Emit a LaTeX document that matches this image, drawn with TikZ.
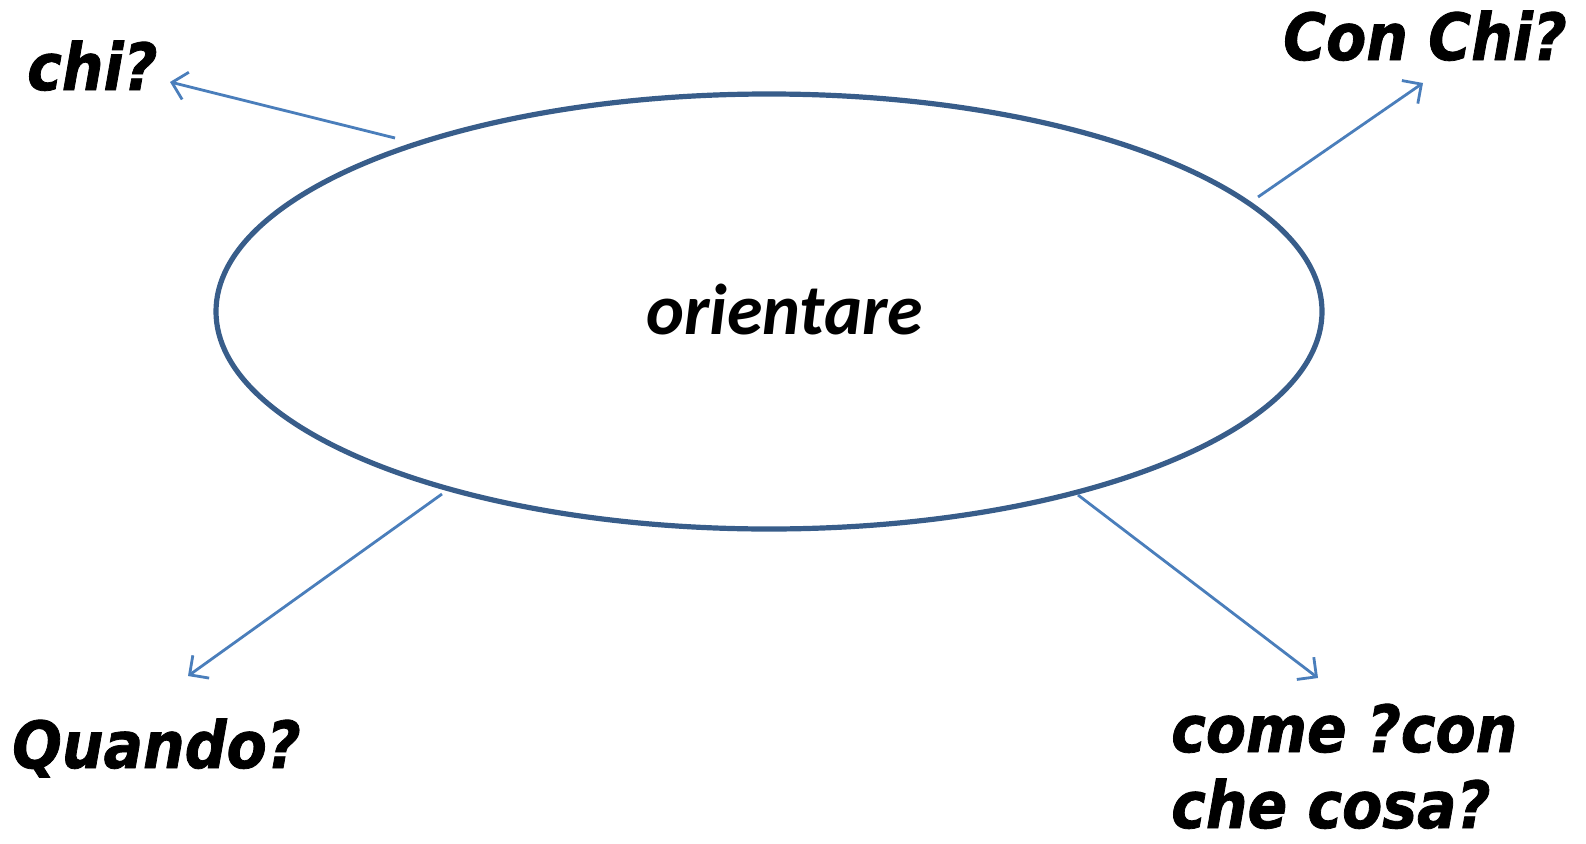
\documentclass[tikz,border=0pt]{standalone}
\usepackage{fontspec}
\usetikzlibrary{arrows.meta,shapes.geometric}
\newfontfamily\qfont[FakeBold=1.2]{DejaVu Sans Condensed Bold Oblique}
\newfontfamily\cfont{Carlito}
\definecolor{arrowblue}{HTML}{4A7EBB}
\definecolor{ringblue}{HTML}{385D8A}
\begin{document}
\begin{tikzpicture}[x=1pt,y=-1pt,
  qtext/.style={inner sep=0pt, anchor=base west, font=\qfont\fontsize{65}{76}\selectfont},
  link/.style={draw=arrowblue, line width=2.8pt, -{Straight Barb[length=14pt,width=28pt,line width=2.8pt]}},
  ring/.style={draw=ringblue, line width=5.2pt, ellipse, minimum width=1106pt, minimum height=435pt, inner sep=0pt}]
\useasboundingbox (0,0) rectangle (1586,843);
\node[ring] (ell) at (769,311.5) {};
\node[inner sep=0pt, anchor=base west, font=\cfont\bfseries\itshape\fontsize{72}{80}\selectfont] (ori) at (646,334) {orientare};
\node[qtext] (chi) at (27,90) {chi?};
\node[qtext] (conchi) at (1283,60) {Con Chi?};
\node[qtext] (quando) at (12,768) {Quando?};
\node[qtext, align=left] (come) at (1171,828) {come ?con\\che cosa?};
\coordinate (s1) at (395,138);  \coordinate (t1) at (170,82);
\coordinate (s2) at (1258,197); \coordinate (t2) at (1423,83);
\coordinate (s3) at (442,494);  \coordinate (t3) at (188,676);
\coordinate (s4) at (1078,495); \coordinate (t4) at (1318,678);
\draw[link] (s1) -- (t1);
\draw[link] (s2) -- (t2);
\draw[link] (s3) -- (t3);
\draw[link] (s4) -- (t4);
\end{tikzpicture}
\end{document}
